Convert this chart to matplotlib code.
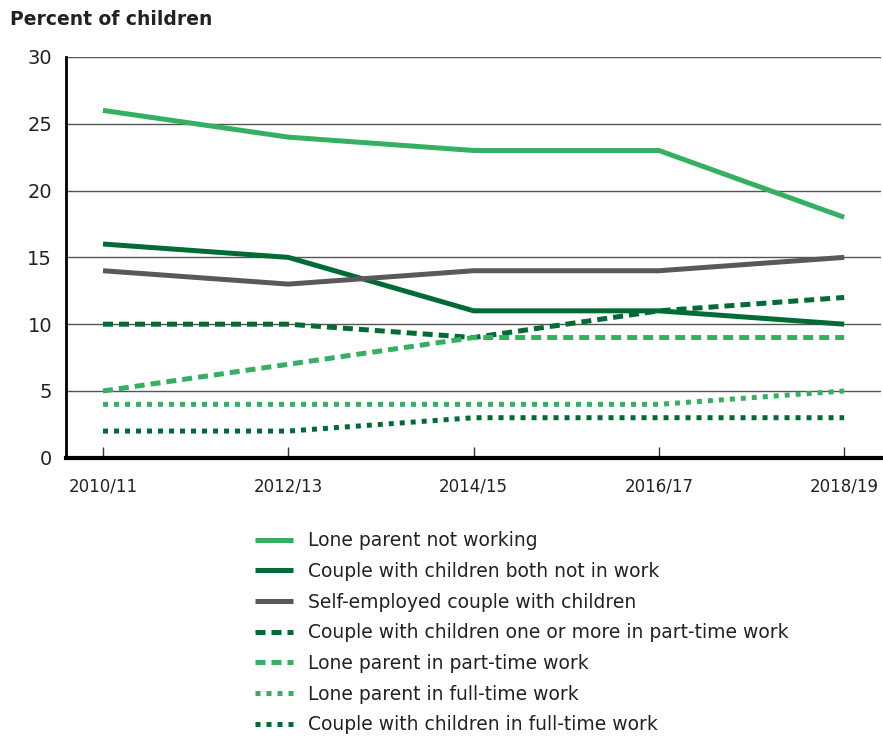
import matplotlib.pyplot as plt

# Data
years = ['2010/11', '2012/13', '2014/15', '2016/17', '2018/19']
lone_not_working = [26, 24, 23, 23, 18]
couple_none_working = [16, 15, 11, 11, 10]
self_employed_couple = [14, 13, 14, 14, 15]
couple_part_time = [10, 10, 9, 11, 12]
lone_part_time = [5, 7, 9, 9, 9]
lone_full_time = [4, 4, 4, 4, 5]
couple_full_time = [2, 2, 3, 3, 3]

light_green = '#35b063'
dark_green = '#006b35'
grey = '#595959'

series = [
    ('Lone parent not working', lone_not_working, light_green, '-'),
    ('Couple with children both not in work', couple_none_working, dark_green, '-'),
    ('Self-employed couple with children', self_employed_couple, grey, '-'),
    ('Couple with children one or more in part-time work', couple_part_time, dark_green, (0, (2.0, 1.2))),
    ('Lone parent in part-time work', lone_part_time, light_green, (0, (2.0, 1.2))),
    ('Lone parent in full-time work', lone_full_time, light_green, (0, (1.0, 1.2))),
    ('Couple with children in full-time work', couple_full_time, dark_green, (0, (1.0, 1.2))),
]

plt.rcParams['font.family'] = 'DejaVu Sans'

fig = plt.figure(figsize=(8.83, 7.36), dpi=100)
ax = fig.add_axes([0.0747, 0.378, 0.9233, 0.5446])

x = list(range(len(years)))
for label, vals, color, ls in series:
    ax.plot(x, vals, color=color, linestyle=ls, linewidth=3.6, label=label,
            dash_capstyle='butt', solid_capstyle='butt', zorder=3)

ax.set_xlim(-0.2, 4.2)
ax.set_ylim(0, 30)
ax.set_yticks(range(0, 31, 5))
ax.set_xticks(x)
ax.set_xticklabels(years, fontsize=12)
ax.tick_params(axis='y', length=0, labelsize=14, pad=10, labelcolor='#222222')
ax.tick_params(axis='x', direction='in', length=8, width=1, color='#333333', pad=14,
               labelcolor='#222222')
ax.grid(axis='y', color='#555555', linewidth=1)
ax.set_axisbelow(True)

for side in ['top', 'right']:
    ax.spines[side].set_visible(False)
ax.spines['left'].set_linewidth(2)
ax.spines['bottom'].set_linewidth(3)

fig.text(0.011, 0.973, 'Percent of children', fontsize=13.5, fontweight='bold',
         va='center', ha='left', color='#222222')

fig.legend(loc='upper left', bbox_to_anchor=(0.289, 0.278), frameon=False,
           fontsize=13.5, handlelength=2.0, handletextpad=0.8, labelspacing=0.62,
           borderaxespad=0, borderpad=0, labelcolor='#222222')

fig.savefig('out.png', dpi=100)
